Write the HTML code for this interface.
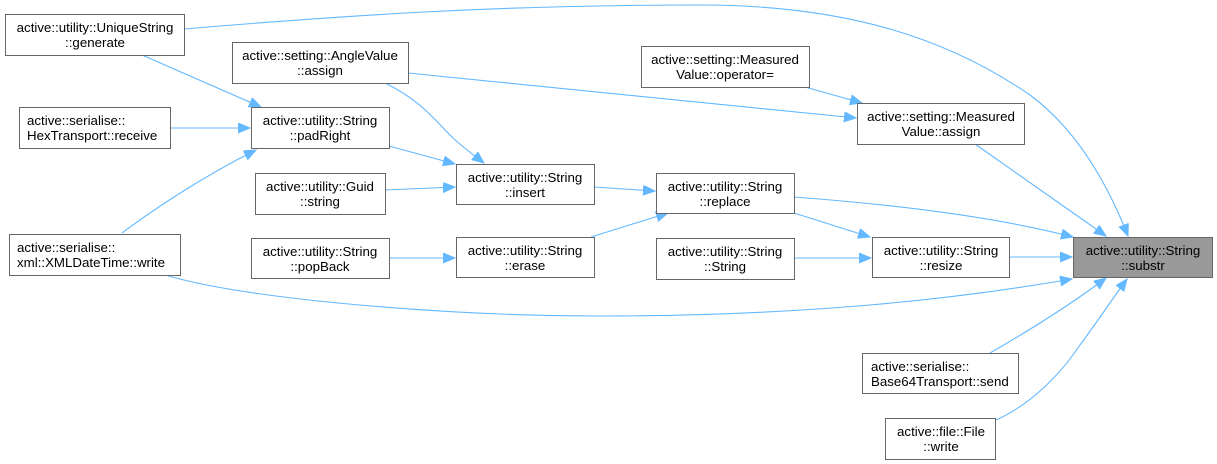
<!DOCTYPE html>
<html><head><meta charset="utf-8"><style>
html,body{margin:0;padding:0;background:#fff;}
svg{display:block;}
text{font-family:"Liberation Sans",Arial,sans-serif;font-size:13.3px;fill:#000;}
.b{fill:#fff;stroke:#666;stroke-width:1;}
.e{fill:none;stroke:#63b8ff;stroke-width:1.1;}
</style></head><body>
<svg width="1217" height="464" viewBox="0 0 1217 464" xmlns="http://www.w3.org/2000/svg">
<defs><marker id="a" markerUnits="userSpaceOnUse" markerWidth="14" markerHeight="11" refX="12" refY="5" orient="auto"><path d="M0,0 L12,5 L0,10 z" fill="#63b8ff" stroke="#63b8ff"/></marker></defs>
<g class="e" marker-end="url(#a)">
<path d="M184,29 C350,15 500,5 700,5 C850,5 950,40 1030,95 C1080,132 1110,190 1128,236"/>
<path d="M142,55 L261,107"/>
<path d="M170,128 L250,128"/>
<path d="M122,233 C150,212 200,178 256,150"/>
<path d="M165,275 C250,300 450,316 600,316 C800,316 950,300 1072,279"/>
<path d="M385,83 C420,100 435,120 450,135 C462,147 475,156 484,163"/>
<path d="M408,73 L856,118"/>
<path d="M389,146 L455,164"/>
<path d="M385,190 L455,187"/>
<path d="M594,187 L655,191"/>
<path d="M591,237 L668,213"/>
<path d="M389,258 L455,258"/>
<path d="M805,87 L862,103"/>
<path d="M975,144 L1106,236"/>
<path d="M794,197 C900,205 1000,218 1073,237"/>
<path d="M794,213 L870,237"/>
<path d="M794,258 L871,258"/>
<path d="M1009,257 L1072,257"/>
<path d="M990,353 C1030,330 1070,305 1106,278"/>
<path d="M996,420 C1030,405 1060,375 1080,345 C1100,318 1115,295 1127,279"/>
</g>
<rect class="b" x="5.5" y="14.5" width="179" height="41"/>
<text x="95" y="32" text-anchor="middle">active::utility::UniqueString</text><text x="95" y="47" text-anchor="middle">::generate</text>
<rect class="b" x="232.5" y="42.5" width="176" height="41"/>
<text x="320" y="60" text-anchor="middle">active::setting::AngleValue</text><text x="320" y="75" text-anchor="middle">::assign</text>
<rect class="b" x="19.5" y="107.5" width="151" height="41"/>
<text x="27" y="125">active::serialise::</text><text x="27" y="140">HexTransport::receive</text>
<rect class="b" x="251.5" y="107.5" width="138" height="41"/>
<text x="320" y="125" text-anchor="middle">active::utility::String</text><text x="320" y="140" text-anchor="middle">::padRight</text>
<rect class="b" x="255.5" y="173.5" width="130" height="41"/>
<text x="320" y="191" text-anchor="middle">active::utility::Guid</text><text x="320" y="206" text-anchor="middle">::string</text>
<rect class="b" x="456.5" y="164.5" width="138" height="40"/>
<text x="525" y="182" text-anchor="middle">active::utility::String</text><text x="525" y="197" text-anchor="middle">::insert</text>
<rect class="b" x="9.5" y="234.5" width="171" height="41"/>
<text x="17" y="252">active::serialise::</text><text x="17" y="267">xml::XMLDateTime::write</text>
<rect class="b" x="251.5" y="238.5" width="138" height="40"/>
<text x="320" y="256" text-anchor="middle">active::utility::String</text><text x="320" y="271" text-anchor="middle">::popBack</text>
<rect class="b" x="456.5" y="237.5" width="138" height="40"/>
<text x="525" y="255" text-anchor="middle">active::utility::String</text><text x="525" y="270" text-anchor="middle">::erase</text>
<rect class="b" x="641.5" y="46.5" width="168" height="41"/>
<text x="725" y="64" text-anchor="middle">active::setting::Measured</text><text x="725" y="79" text-anchor="middle">Value::operator=</text>
<rect class="b" x="857.5" y="103.5" width="167" height="41"/>
<text x="941" y="121" text-anchor="middle">active::setting::Measured</text><text x="941" y="136" text-anchor="middle">Value::assign</text>
<rect class="b" x="656.5" y="173.5" width="138" height="40"/>
<text x="725" y="191" text-anchor="middle">active::utility::String</text><text x="725" y="206" text-anchor="middle">::replace</text>
<rect class="b" x="656.5" y="238.5" width="138" height="41"/>
<text x="725" y="256" text-anchor="middle">active::utility::String</text><text x="725" y="271" text-anchor="middle">::String</text>
<rect class="b" x="872.5" y="237.5" width="137" height="40"/>
<text x="941" y="255" text-anchor="middle">active::utility::String</text><text x="941" y="270" text-anchor="middle">::resize</text>
<rect x="1073.5" y="237.5" width="139" height="40" fill="#999" stroke="#666"/>
<text x="1143" y="255" text-anchor="middle">active::utility::String</text><text x="1143" y="270" text-anchor="middle">::substr</text>
<rect class="b" x="862.5" y="353.5" width="156" height="40"/>
<text x="871" y="371">active::serialise::</text><text x="871" y="386">Base64Transport::send</text>
<rect class="b" x="885.5" y="418.5" width="110" height="41"/>
<text x="941" y="436" text-anchor="middle">active::file::File</text><text x="941" y="451" text-anchor="middle">::write</text>
</svg>
</body></html>
